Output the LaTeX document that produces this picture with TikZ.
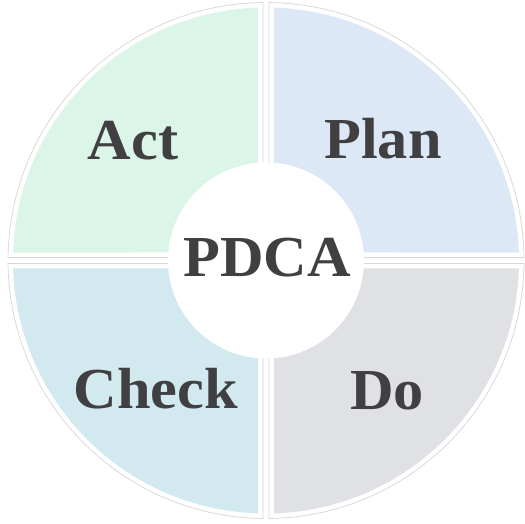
\documentclass[tikz,border=0pt]{standalone}
\usepackage{fontspec}
\setmainfont{Liberation Serif}
\newfontfamily\lblfont{Liberation Serif}[FakeStretch=1.04]
\usetikzlibrary{calc}
\definecolor{actc}{HTML}{DCF5E9}
\definecolor{planc}{HTML}{DDE8F6}
\definecolor{checkc}{HTML}{D2E9F0}
\definecolor{doc}{HTML}{E0E1E4}
\definecolor{txt}{HTML}{404042}
\definecolor{rimc}{HTML}{D6D6D6}
\begin{document}
\begin{tikzpicture}[x=1pt,y=1pt,
  rim/.style={draw=rimc,line width=0.7pt,fill=white},
  lbl/.style={text=txt,font=\lblfont\fontsize{58}{58}\selectfont\bfseries,anchor=base,inner sep=0pt}]
\useasboundingbox (0,0) rectangle (525,524);
\fill[white] (0,0) rectangle (525,524);
\coordinate (c) at (266,263.5);
% outlines
\def\ra{258}\def\rb{253}
\path[rim] ($(c)+(3,3)$) -- ([shift={(c)}]89.33:\ra) arc[start angle=89.33,end angle=0.67,radius=\ra] -- cycle;
\path[rim] ($(c)+(-3,3)$) -- ([shift={(c)}]90.67:\ra) arc[start angle=90.67,end angle=179.33,radius=\ra] -- cycle;
\path[rim] ($(c)+(-3,-3)$) -- ([shift={(c)}]180.67:\ra) arc[start angle=180.67,end angle=269.33,radius=\ra] -- cycle;
\path[rim] ($(c)+(3,-3)$) -- ([shift={(c)}]270.67:\ra) arc[start angle=270.67,end angle=359.33,radius=\ra] -- cycle;
% fills
\fill[planc] ($(c)+(8,8)$) -- ([shift={(c)}]88.19:\rb) arc[start angle=88.19,end angle=1.81,radius=\rb] -- cycle;
\fill[actc] ($(c)+(-8,8)$) -- ([shift={(c)}]91.81:\rb) arc[start angle=91.81,end angle=178.19,radius=\rb] -- cycle;
\fill[checkc] ($(c)+(-8,-8)$) -- ([shift={(c)}]181.81:\rb) arc[start angle=181.81,end angle=268.19,radius=\rb] -- cycle;
\fill[doc] ($(c)+(8,-8)$) -- ([shift={(c)}]271.81:\rb) arc[start angle=271.81,end angle=358.19,radius=\rb] -- cycle;
% centre
\node[circle,fill=white,minimum size=196pt,inner sep=0pt] (hub) at (c) {};
\node[lbl] (pdca) at (267,247) {PDCA};
\node[lbl] (act) at (133,364) {Act};
\node[lbl] (plan) at (383,365) {Plan};
\node[lbl] (check) at (156,115) {Check};
\node[lbl] (do) at (387,114) {Do};
\end{tikzpicture}
\end{document}
